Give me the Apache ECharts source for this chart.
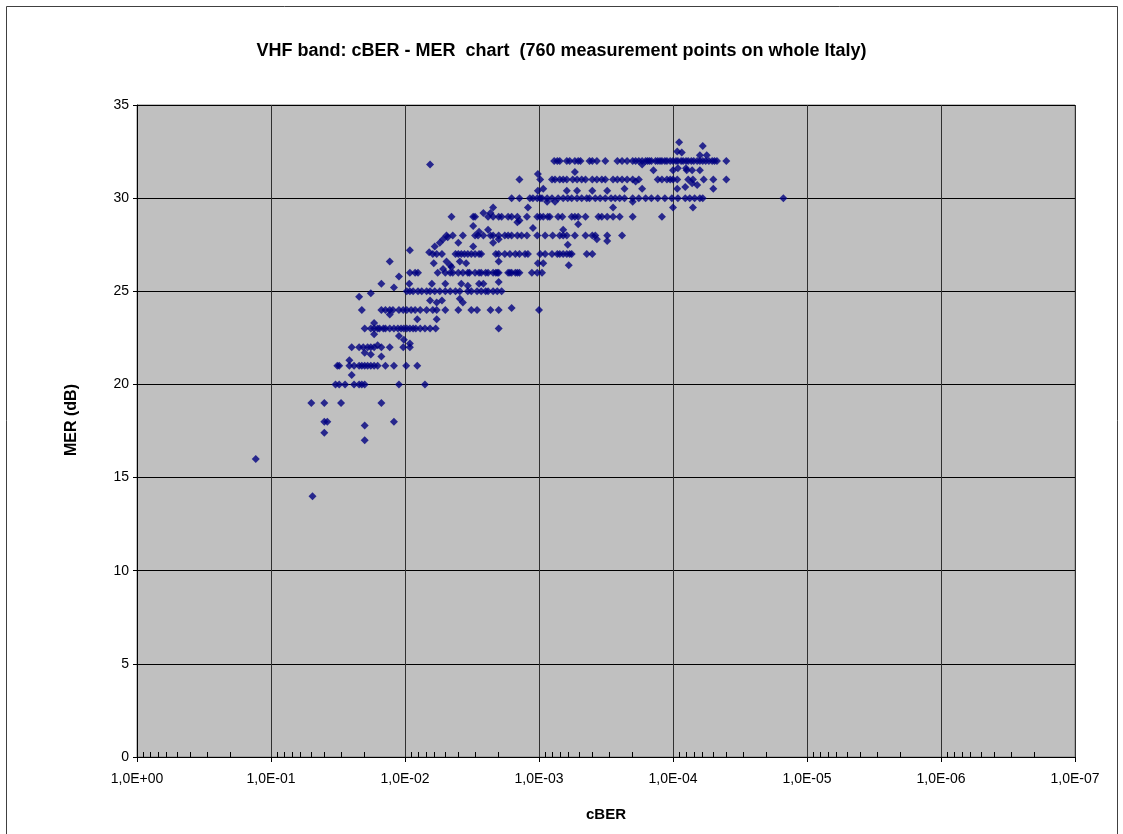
<!DOCTYPE html>
<html><head><meta charset="utf-8">
<script src="https://cdn.jsdelivr.net/npm/echarts@6/dist/echarts.min.js"></script>
<style>html,body{margin:0;padding:0;background:#fff}#c{width:1123px;height:834px}</style>
</head><body><div id="c"></div>
<script>
const titleText = 'VHF band: cBER - MER  chart  (760 measurement points on whole Italy)';
const xName = 'cBER';
const yName = 'MER (dB)';
const minorMantissas = [2, 3, 4, 5, 6, 7, 8, 9];

// cBER values of points lying on integer MER rows
const mer32 = [7.7e-4,7.3e-4,7.0e-4,6.2e-4,5.9e-4,5.4e-4,5.1e-4,4.9e-4,4.2e-4,4.0e-4,3.7e-4,3.2e-4,2.6e-4,2.4e-4,2.2e-4,2.0e-4,1.9e-4,1.8e-4,1.7e-4,1.6e-4,1.55e-4,1.5e-4,1.45e-4,1.35e-4,1.3e-4,1.25e-4,1.21e-4,1.15e-4,1.11e-4,1.05e-4,1.0e-4,9.5e-5,9.2e-5,8.7e-5,8.4e-5,8.0e-5,7.7e-5,7.3e-5,7.0e-5,6.6e-5,6.3e-5,6.0e-5,5.7e-5,5.4e-5,5.1e-5,4.9e-5,4.7e-5,4.0e-5];
const mer31 = [1.4e-3,9.8e-4,8.0e-4,7.6e-4,7.0e-4,6.6e-4,6.2e-4,5.6e-4,5.2e-4,4.8e-4,4.5e-4,4.0e-4,3.7e-4,3.4e-4,3.2e-4,2.8e-4,2.6e-4,2.4e-4,2.2e-4,2.0e-4,1.8e-4,1.3e-4,1.21e-4,1.11e-4,1.05e-4,1.0e-4,9.3e-5,7.7e-5,7.1e-5,5.9e-5,5.0e-5,4.0e-5];
const mer30 = [1.6e-3,1.4e-3,1.17e-3,1.11e-3,1.03e-3,9.8e-4,9.5e-4,8.7e-4,8.0e-4,7.2e-4,6.6e-4,6.1e-4,5.7e-4,5.2e-4,4.8e-4,4.4e-4,4.2e-4,3.8e-4,3.5e-4,3.2e-4,2.9e-4,2.7e-4,2.5e-4,2.3e-4,2.0e-4,1.8e-4,1.6e-4,1.45e-4,1.3e-4,1.15e-4,1.02e-4,9.2e-5,8.1e-5,7.5e-5,6.9e-5,6.3e-5,6.0e-5,1.5e-5];
const mer29 = [4.5e-3,3.1e-3,3.0e-3,2.4e-3,2.2e-3,2.0e-3,1.9e-3,1.7e-3,1.6e-3,1.45e-3,1.23e-3,1.03e-3,9.8e-4,9.3e-4,8.6e-4,8.3e-4,7.2e-4,6.7e-4,5.7e-4,5.4e-4,5.1e-4,4.5e-4,3.6e-4,3.4e-4,3.1e-4,2.8e-4,2.5e-4,2.0e-4,1.21e-4];
const mer28 = [4.9e-3,4.4e-3,3.7e-3,3.0e-3,2.85e-3,2.6e-3,2.3e-3,2.2e-3,2.0e-3,1.8e-3,1.7e-3,1.6e-3,1.45e-3,1.35e-3,1.23e-3,1.03e-3,9.0e-4,7.9e-4,7.0e-4,6.6e-4,6.2e-4,5.4e-4,4.5e-4,4.0e-4,3.8e-4,3.1e-4,2.4e-4];
const mer27 = [6.2e-3,5.8e-3,5.3e-3,4.2e-3,4.0e-3,3.8e-3,3.6e-3,3.4e-3,3.2e-3,3.0e-3,2.8e-3,2.7e-3,2.1e-3,2.0e-3,1.8e-3,1.65e-3,1.5e-3,1.4e-3,1.27e-3,1.21e-3,9.8e-4,9.0e-4,8.0e-4,7.3e-4,7.0e-4,6.6e-4,6.2e-4,5.9e-4,5.7e-4,4.4e-4,4.0e-4];
const mer26 = [9.2e-3,8.4e-3,8.0e-3,5.7e-3,5.0e-3,4.6e-3,4.4e-3,4.0e-3,3.7e-3,3.4e-3,3.3e-3,3.0e-3,2.8e-3,2.7e-3,2.5e-3,2.4e-3,2.2e-3,2.1e-3,2.05e-3,2.0e-3,1.7e-3,1.65e-3,1.6e-3,1.5e-3,1.45e-3,1.4e-3,1.13e-3,1.03e-3,9.5e-4];
const mer25 = [9.7e-3,9.2e-3,8.7e-3,8.0e-3,7.5e-3,6.9e-3,6.5e-3,6.0e-3,5.5e-3,5.0e-3,4.6e-3,4.2e-3,3.9e-3,3.4e-3,3.2e-3,2.9e-3,2.7e-3,2.5e-3,2.4e-3,2.2e-3,2.05e-3,1.9e-3];
const mer24 = [2.1e-2,1.5e-2,1.4e-2,1.3e-2,1.23e-2,1.11e-2,1.03e-2,9.7e-3,9.0e-3,8.4e-3,7.7e-3,6.9e-3,6.2e-3,5.8e-3,5.0e-3,4.0e-3,3.2e-3,2.9e-3,2.3e-3,2.0e-3,1.0e-3];
const mer23 = [2.0e-2,1.8e-2,1.7e-2,1.6e-2,1.55e-2,1.45e-2,1.4e-2,1.3e-2,1.21e-2,1.13e-2,1.07e-2,1.02e-2,9.7e-3,9.2e-3,8.7e-3,8.3e-3,7.7e-3,7.1e-3,6.5e-3,5.9e-3,2.0e-3];
const mer22 = [2.5e-2,2.2e-2,2.05e-2,1.9e-2,1.8e-2,1.7e-2,1.5e-2,1.3e-2,1.03e-2,9.2e-3];
const mer21 = [3.2e-2,3.1e-2,2.6e-2,2.4e-2,2.2e-2,2.1e-2,2.0e-2,1.9e-2,1.8e-2,1.7e-2,1.6e-2,1.4e-2,1.21e-2,9.8e-3,8.1e-3];
const mer20 = [3.3e-2,3.1e-2,2.8e-2,2.4e-2,2.2e-2,2.1e-2,2.0e-2,1.11e-2,7.1e-3];
const mer19 = [5.0e-2,4.0e-2,3.0e-2,1.5e-2];
const mer18 = [4.0e-2,3.8e-2,1.21e-2];

// points between rows: [cBER, MER]
const otherPoints = [
  [2.0e-2,17.8],[4.0e-2,17.4],[2.0e-2,17],[1.3e-1,16],[4.9e-2,14],
  [2.5e-2,20.5],
  [2.0e-2,21.7],[1.8e-2,21.6],[1.5e-2,21.5],[2.6e-2,21.3],
  [1.7e-2,22.7],[1.11e-2,22.6],[1.02e-2,22.4],[9.2e-3,22.2],[1.6e-2,22.1],
  [1.3e-2,23.75],[8.1e-3,23.5],[5.8e-3,23.5],[1.7e-2,23.3],
  [1.6e-3,24.1],
  [6.5e-3,24.5],[5.8e-3,24.4],[5.3e-3,24.5],[3.9e-3,24.6],[3.7e-3,24.4],
  [2.2e-2,24.7],[1.8e-2,24.9],
  [1.11e-2,25.8],[1.5e-2,25.4],[1.21e-2,25.2],[9.3e-3,25.4],[6.3e-3,25.4],[5.0e-3,25.4],[3.8e-3,25.4],[3.4e-3,25.3],[2.8e-3,25.4],[2.6e-3,25.4],[2.0e-3,25.5],
  [1.3e-2,26.6],[6.1e-3,26.5],[4.9e-3,26.6],[4.5e-3,26.3],[3.5e-3,26.5],[1.02e-3,26.5],[9.3e-4,26.5],[6.0e-4,26.4],[2.0e-3,26.6],[5.2e-3,26.2],[4.6e-3,26.4],[3.9e-3,26.6],
  [9.2e-3,27.2],[6.6e-3,27.1],
  [6.0e-3,27.4],[5.5e-3,27.6],[5.2e-3,27.8],[4.8e-3,27.9],[2.2e-3,27.6],[2.0e-3,27.8],[3.7e-4,27.8],[3.1e-4,27.7],[6.1e-4,27.5],[4.0e-3,27.6],[3.1e-3,27.4],
  [3.1e-3,28.5],[1.45e-3,28.7],[1.11e-3,28.4],[6.6e-4,28.3],[5.1e-4,28.6],[2.8e-3,28.2],[2.4e-3,28.3],[1.4e-3,28.8],
  [2.6e-3,29.2],[2.2e-3,29.5],[2.3e-3,29.2],
  [1.0e-4,29.5],[7.1e-5,29.5],[2.8e-4,29.5],[2.0e-4,29.8],[1.21e-3,29.5],[8.7e-4,29.8],[7.6e-4,29.8],
  [6.2e-4,30.4],[5.2e-4,30.4],[4.0e-4,30.4],[1.02e-3,30.4],[9.3e-4,30.5],[3.1e-4,30.4],[2.3e-4,30.5],[1.9e-4,30.9],[1.7e-4,30.5],[9.3e-5,30.5],[8.1e-5,30.6],[7.2e-5,30.8],[6.6e-5,30.7],[5.0e-5,30.5],
  [1.4e-4,31.5],[1.0e-4,31.5],[9.2e-5,31.6],[7.9e-5,31.5],[6.3e-5,31.5],[8.0e-5,31.6],[7.2e-5,31.5],[1.7e-4,31.8],[5.4e-4,31.4],[1.02e-3,31.3],[6.5e-3,31.8],
  [9.0e-5,33.0],[6.0e-5,32.8],[9.3e-5,32.5],[8.6e-5,32.45],[5.6e-5,32.3],[6.3e-5,32.3]
];

const rows = [[32,mer32],[31,mer31],[30,mer30],[29,mer29],[28,mer28],[27,mer27],[26,mer26],[25,mer25],[24,mer24],[23,mer23],[22,mer22],[21,mer21],[20,mer20],[19,mer19],[18,mer18]];
const points = [];
rows.forEach(([mer, xs]) => xs.forEach(x => points.push([x, mer])));
otherPoints.forEach(p => points.push(p));

const minorTickValues = [];
for (let k = 1; k <= 7; k++) minorMantissas.forEach(m => minorTickValues.push(m * Math.pow(10, -k)));

const FONT = '"Liberation Sans", Arial, sans-serif';
const fmtX = v => {
  const e = Math.round(Math.log10(v));
  return '1,0E' + (e < 0 ? '-' : '+') + String(Math.abs(e)).padStart(2, '0');
};

const chart = echarts.init(document.getElementById('c'), null, {renderer: 'canvas'});
chart.setOption({
  animation: false,
  backgroundColor: '#fff',
  textStyle: {fontFamily: FONT},
  title: {
    text: titleText, left: 'center', top: 37,
    textStyle: {fontFamily: FONT, fontSize: 18, fontWeight: 'bold', color: '#000'}
  },
  graphic: [{
    type: 'rect', shape: {x: 6.5, y: 6.5, width: 1111, height: 840},
    style: {fill: 'none', stroke: '#404040', lineWidth: 1}, silent: true, z: -1
  }],
  grid: {
    left: 137, right: 48, top: 105, bottom: 77, containLabel: false,
    show: true, backgroundColor: '#C0C0C0', borderColor: '#808080', borderWidth: 1
  },
  xAxis: [{
    type: 'log', logBase: 10, min: 1e-7, max: 1, inverse: true,
    name: xName, nameLocation: 'middle', nameGap: 50,
    nameTextStyle: {fontFamily: FONT, fontSize: 15, fontWeight: 'bold', color: '#000'},
    axisLine: {show: true, lineStyle: {color: '#000', width: 1}},
    axisTick: {show: true, inside: false, length: 5, lineStyle: {color: '#000'}},
    axisLabel: {show: true, formatter: fmtX, margin: 15, fontFamily: FONT, fontSize: 14, color: '#000', interval: 0, showMinLabel: true, showMaxLabel: true, hideOverlap: false},
    splitLine: {show: true, lineStyle: {color: '#303030', width: 1}},
    minorTick: {show: false}
  }, {
    type: 'log', logBase: 10, min: 1e-7, max: 1, inverse: true, position: 'bottom',
    axisLine: {show: false},
    axisLabel: {show: false},
    splitLine: {show: false},
    axisTick: {show: true, inside: true, length: 5, customValues: minorTickValues, lineStyle: {color: '#000'}}
  }],
  yAxis: {
    type: 'value', min: 0, max: 35, interval: 5,
    name: yName, nameLocation: 'middle', nameGap: 57, nameRotate: 90,
    nameTextStyle: {fontFamily: FONT, fontSize: 16, fontWeight: 'bold', color: '#000', padding: [0, 0, 0, 22]},
    axisLine: {show: true, lineStyle: {color: '#000', width: 1}},
    axisTick: {show: true, inside: false, length: 4, lineStyle: {color: '#000'}},
    axisLabel: {fontFamily: FONT, fontSize: 14, color: '#000', margin: 8},
    splitLine: {show: true, lineStyle: {color: '#000', width: 1}}
  },
  series: [{
    type: 'scatter', xAxisIndex: 0, yAxisIndex: 0,
    symbol: 'diamond', symbolSize: 8,
    itemStyle: {color: '#000080'},
    data: points
  }]
});
</script>
</body></html>
